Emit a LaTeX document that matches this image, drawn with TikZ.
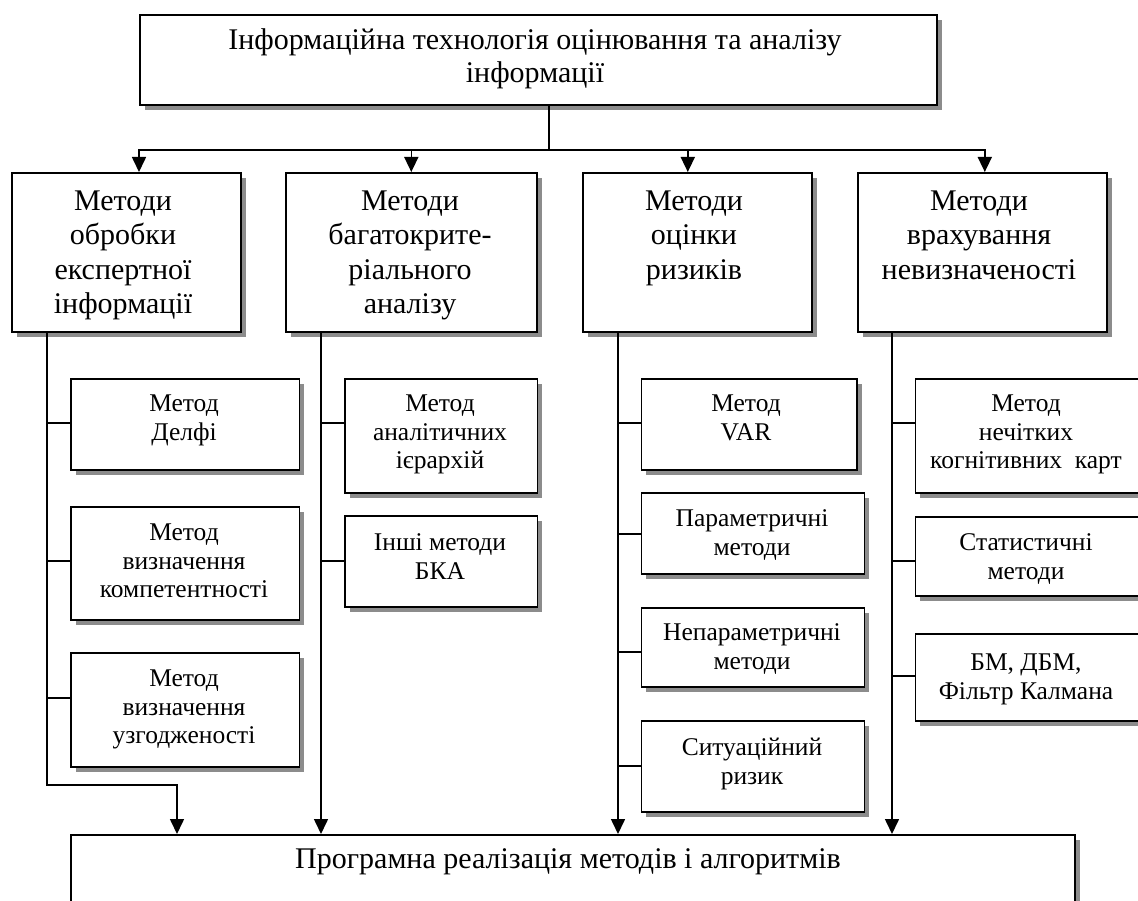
\documentclass[tikz,border=0pt]{standalone}
\usepackage{fontspec}
\setmainfont{Liberation Serif}
\usetikzlibrary{arrows.meta,shadows}
\begin{document}
\begin{tikzpicture}[x=1pt,y=-1pt,
  box/.style={draw=black, line width=1.6pt, fill=white, inner sep=0pt, anchor=north west,
    drop shadow={shadow xshift=5pt, shadow yshift=-5pt, fill=black!45, opacity=1}},
  lbl/.style={inner sep=0pt, anchor=north, align=center},
  toptxt/.style={lbl, font=\fontsize{30}{33}\selectfont},
  midtxt/.style={lbl, font=\fontsize{30}{34.5}\selectfont},
  subtxt/.style={lbl, font=\fontsize{25.5}{28.5}\selectfont},
  conn/.style={line width=1.6pt},
  arr/.style={conn, -{Triangle[width=14pt,length=15pt]}}]
\useasboundingbox (0,0) rectangle (1138,901);

% root
\node[box, minimum width=797pt, minimum height=90pt] (T) at (139,14) {};
\node[toptxt] (tT) at (535,25.8) {\strut Інформаційна технологія оцінювання та аналізу\\інформації};

% method groups
\node[box, minimum width=229pt, minimum height=159pt] (b1) at (11,172) {};
\node[box, minimum width=251pt, minimum height=159pt] (b2) at (285,172) {};
\node[box, minimum width=229pt, minimum height=159pt] (b3) at (582,172) {};
\node[box, minimum width=249pt, minimum height=159pt] (b4) at (857,172) {};
\node[midtxt] (tb1) at (123,185.75) {\strut Методи\\обробки\\експертної\\інформації};
\node[midtxt] (tb2) at (410,185.75) {\strut Методи\\багатокрите-\\ріального\\аналізу};
\node[midtxt] (tb3) at (694,185.75) {\strut Методи\\оцінки\\ризиків};
\node[midtxt] (tb4) at (979,185.75) {\strut Методи\\врахування\\невизначеності};

% expert information
\node[box, minimum width=228.5pt, minimum height=91pt] (c11) at (70,378) {};
\node[box, minimum width=228.5pt, minimum height=113pt] (c12) at (70,506) {};
\node[box, minimum width=228.5pt, minimum height=114pt] (c13) at (70,652) {};
\node[subtxt] (tc11) at (184,391.5) {\strut Метод\\Делфі};
\node[subtxt] (tc12) at (184,520.5) {\strut Метод\\визначення\\компетентності};
\node[subtxt] (tc13) at (184,666.5) {\strut Метод\\визначення\\узгодженості};

% multicriteria analysis
\node[box, minimum width=192.5pt, minimum height=114pt] (c21) at (344,378) {};
\node[box, minimum width=192.5pt, minimum height=91pt] (c22) at (344,515) {};
\node[subtxt] (tc21) at (440,391.5) {\strut Метод\\аналітичних\\ієрархій};
\node[subtxt] (tc22) at (440,530.5) {\strut Інші методи\\БКА};

% risk assessment
\node[box, minimum width=215.5pt, minimum height=91pt] (c31) at (640.5,378) {};
\node[box, minimum width=223pt, minimum height=81pt] (c32) at (640.5,492) {};
\node[box, minimum width=223pt, minimum height=79pt] (c33) at (640.5,607) {};
\node[box, minimum width=223pt, minimum height=91pt] (c34) at (640.5,720) {};
\node[subtxt] (tc31) at (746,391.5) {\strut Метод\\VAR};
\node[subtxt] (tc32) at (752,506.5) {\strut Параметричні\\методи};
\node[subtxt] (tc33) at (752,620.5) {\strut Непараметричні\\методи};
\node[subtxt] (tc34) at (752,735.5) {\strut Ситуаційний\\ризик};

% uncertainty
\node[box, minimum width=240pt, minimum height=114pt] (c41) at (914.5,378) {};
\node[box, minimum width=240pt, minimum height=79pt] (c42) at (914.5,516) {};
\node[box, minimum width=240pt, minimum height=87pt] (c43) at (914.5,633) {};
\node[subtxt] (tc41) at (1026,391.5) {\strut Метод\\нечітких\\когнітивних~ карт};
\node[subtxt] (tc42) at (1026,530.5) {\strut Статистичні\\методи};
\node[subtxt] (tc43) at (1026,650.5) {\strut БМ, ДБМ,\\Фільтр Калмана};

% implementation
\node[box, minimum width=1004pt, minimum height=120pt] (P) at (70,834) {};
\node[toptxt] (tP) at (568,845.5) {\strut Програмна реалізація методів і алгоритмів};

% root to groups
\coordinate (j) at (549,150);
\draw[conn] (T.south -| j) -- (j);
\draw[arr] (j) -| (b1.north -| T.west);
\draw[arr] (j) -| (b2.north);
\draw[arr] (j) -| ([xshift=-9.5pt]b3.north);
\draw[arr] (j) -| ([xshift=2.5pt]b4.north);

% trunks down to implementation
\coordinate (t1) at ([xshift=36pt]b1.south west);
\coordinate (t2) at ([xshift=36pt]b2.south west);
\coordinate (t3) at ([xshift=36pt]b3.south west);
\coordinate (t4) at ([xshift=35pt]b4.south west);
\coordinate (k1) at (177,785);
\draw[arr] (t1) |- (k1) -- (k1 |- P.north);
\draw[arr] (t2) -- (t2 |- P.north);
\draw[arr] (t3) -- (t3 |- P.north);
\draw[arr] (t4) -- (t4 |- P.north);

% branch stubs
\coordinate (s11) at (47,423);  \draw[conn] (s11) -- (s11 -| c11.west);
\coordinate (s12) at (47,561);  \draw[conn] (s12) -- (s12 -| c12.west);
\coordinate (s13) at (47,698);  \draw[conn] (s13) -- (s13 -| c13.west);
\coordinate (s21) at (321,423); \draw[conn] (s21) -- (s21 -| c21.west);
\coordinate (s22) at (321,561); \draw[conn] (s22) -- (s22 -| c22.west);
\coordinate (s31) at (618,423); \draw[conn] (s31) -- (s31 -| c31.west);
\coordinate (s32) at (618,534); \draw[conn] (s32) -- (s32 -| c32.west);
\coordinate (s33) at (618,652); \draw[conn] (s33) -- (s33 -| c33.west);
\coordinate (s34) at (618,766); \draw[conn] (s34) -- (s34 -| c34.west);
\coordinate (s41) at (892,423); \draw[conn] (s41) -- (s41 -| c41.west);
\coordinate (s42) at (892,561); \draw[conn] (s42) -- (s42 -| c42.west);
\coordinate (s43) at (892,676); \draw[conn] (s43) -- (s43 -| c43.west);
\end{tikzpicture}
\end{document}
